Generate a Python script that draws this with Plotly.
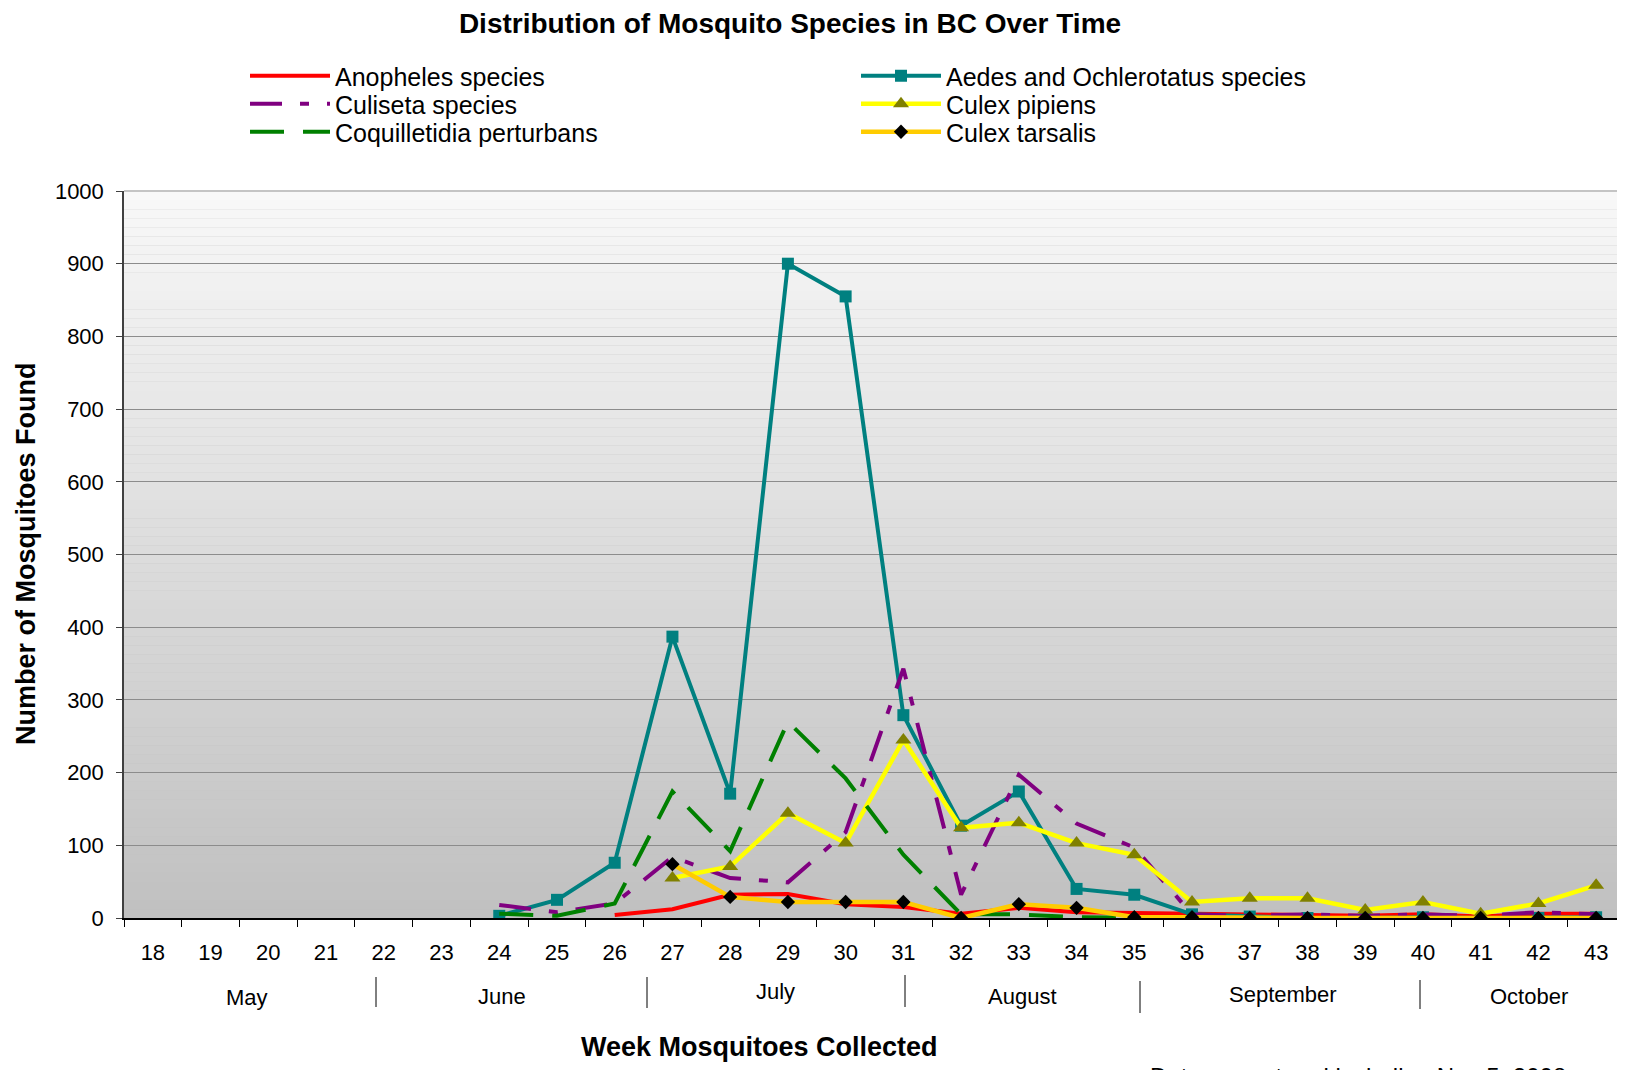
import plotly.graph_objects as go

weeks = [str(w) for w in range(18, 44)]

anopheles = [None]*8 + [4, 12, 32, 33, 19, 15, 6, 14, 8, 7, 6, 5, 5, 3, 5, 2, 6, 6]
aedes = [None]*6 + [3, 25, 76, 387, 171, 900, 855, 279, 127, 174, 40, 32, 5, 2, 0, 0, 1, 0, 0, 1]
culiseta = [None]*6 + [18, 8, 20, 84, 55, 49, 118, 343, 32, 197, 130, 97, 5, 3, 5, 3, 5, 3, 8, 5]
culex_pipiens = [None]*9 + [55, 71, 144, 103, 245, 124, 131, 103, 87, 22, 27, 27, 11, 22, 6, 20, 45]
coquilletidia = [None]*6 + [6, 3, 20, 174, 92, 270, 192, 87, 5, 5, 1, 0, 0, 0, 0, 0, 0, 0, 0, 0]
culex_tarsalis = [None]*9 + [74, 29, 22, 22, 22, 0, 19, 14, 1, 1, 0, 0, 0, 0, 0, 0, 0]

months = ["May", "June", "July", "August", "September", "October"]
month_px = [(247, 997), (502, 996), (775, 992), (1023, 996), (1283, 994), (1529, 996)]
sep_px = [(376, 977, 1007), (647, 977, 1008), (905, 975, 1007), (1140, 981, 1013), (1420, 980, 1009)]

# page body has an 8px default margin; work in page pixels and shift
OFF = 8
W, H = 1625 - OFF, 1070 - OFF
L, T = 124 - OFF, 191 - OFF
R = 0
PLOT_BOTTOM = 918 - OFF
B = H - PLOT_BOTTOM
PW = W - L - R
PH = H - T - B
FONT = "Arial, Liberation Sans, sans-serif"


def px_x(x):
    return (x - OFF - L) / PW


def px_y(y):
    return (PLOT_BOTTOM - (y - OFF)) / PH


# legend slots: (legend id, text-left x, row-centre y) in page pixels
ITEMW = 80
TEXTGAP = ITEMW + 10
legend_slots = {
    "legend": (335, 76),
    "legend2": (946, 76),
    "legend3": (335, 104),
    "legend4": (946, 104),
    "legend5": (335, 132),
    "legend6": (946, 132),
}

fig = go.Figure()

fig.add_trace(go.Scatter(x=weeks, y=anopheles, name="Anopheles species", mode="lines",
                         line=dict(color="#ff0000", width=4), legend="legend"))
fig.add_trace(go.Scatter(x=weeks, y=aedes, name="Aedes and Ochlerotatus species", mode="lines+markers",
                         line=dict(color="#008080", width=4),
                         marker=dict(symbol="square", size=12, color="#008080"), legend="legend2"))
fig.add_trace(go.Scatter(x=weeks, y=culiseta, name="Culiseta species", mode="lines",
                         line=dict(color="#800080", width=4, dash="32px,18px,9px,18px"),
                         legend="legend3"))
fig.add_trace(go.Scatter(x=weeks, y=culex_pipiens, name="Culex pipiens", mode="lines+markers",
                         line=dict(color="#ffff00", width=4.5),
                         marker=dict(symbol="triangle-up", size=14, color="#808000"), legend="legend4"))
fig.add_trace(go.Scatter(x=weeks, y=coquilletidia, name="Coquilletidia perturbans", mode="lines",
                         line=dict(color="#008000", width=4, dash="34px,19px"), legend="legend5"))
fig.add_trace(go.Scatter(x=weeks, y=culex_tarsalis, name="Culex tarsalis", mode="lines+markers",
                         line=dict(color="#ffcc00", width=4.5),
                         marker=dict(symbol="diamond", size=11, color="#000000"), legend="legend6"))

shapes = []
n = 80
for k in range(n):
    f = (k + 0.5) / n
    c = int(round(192 + (248 - 192) * f))
    shapes.append(dict(type="rect", xref="x domain", yref="y domain", x0=0, x1=1,
                       y0=k / n, y1=(k + 1) / n, fillcolor=f"rgb({c},{c},{c})",
                       line=dict(width=0), layer="below"))
shapes.append(dict(type="line", xref="paper", yref="paper", x0=0, x1=1, y0=1, y1=1,
                   line=dict(color="#c4c4c4", width=2), layer="above"))
shapes.append(dict(type="line", xref="paper", yref="paper", x0=0.9985, x1=0.9985, y0=0, y1=1,
                   line=dict(color="#c4c4c4", width=2), layer="above"))
for sx, sy0, sy1 in sep_px:
    shapes.append(dict(type="line", xref="paper", yref="paper", x0=px_x(sx), x1=px_x(sx),
                       y0=px_y(sy0), y1=px_y(sy1), line=dict(color="#000000", width=1)))

annotations = []
for m, (mx, my) in zip(months, month_px):
    annotations.append(dict(text=m, xref="paper", yref="paper", x=px_x(mx), y=px_y(my),
                            xanchor="center", yanchor="middle", showarrow=False,
                            font=dict(family=FONT, size=22, color="#000000")))
annotations.append(dict(text="<b>Week Mosquitoes Collected</b>", xref="paper", yref="paper",
                        x=px_x(759), y=px_y(1047), xanchor="center", yanchor="middle",
                        showarrow=False, font=dict(family=FONT, size=27, color="#000000")))
annotations.append(dict(text="<b>Number of Mosquitoes Found</b>", xref="paper", yref="paper",
                        x=px_x(26), y=px_y(554), xanchor="center", yanchor="middle",
                        textangle=-90, showarrow=False,
                        font=dict(family=FONT, size=27, color="#000000")))
annotations.append(dict(text="Data current and including Nov 5, 2008", xref="paper", yref="paper",
                        x=px_x(1148), y=px_y(1061), xanchor="left", yanchor="top",
                        showarrow=False, font=dict(family=FONT, size=24, color="#000000")))

legend_common = dict(xanchor="left", yanchor="middle", itemwidth=ITEMW,
                     font=dict(family=FONT, size=25, color="#000000"),
                     bgcolor="rgba(0,0,0,0)", borderwidth=0)
legends = {}
for lid, (tx, ty) in legend_slots.items():
    legends[lid] = dict(x=px_x(tx - TEXTGAP), y=px_y(ty), **legend_common)

fig.update_layout(
    width=W, height=H,
    margin=dict(l=L, r=R, t=T, b=B, autoexpand=False),
    paper_bgcolor="#ffffff",
    plot_bgcolor="#c0c0c0",
    font=dict(family=FONT, size=22, color="#000000"),
    title=dict(text="<b>Distribution of Mosquito Species in BC Over Time</b>",
               x=px_x(790), xref="paper", xanchor="center",
               y=1 - (23 - OFF) / H, yref="container", yanchor="middle",
               font=dict(family=FONT, size=28, color="#000000")),
    showlegend=True,
    xaxis=dict(type="category", range=[-0.5, 25.5], showgrid=False, showline=True,
               linecolor="#000000", linewidth=1.5, ticks="outside", tickson="boundaries",
               ticklen=7, tickcolor="#000000", tickwidth=1, ticklabelstandoff=14,
               tickfont=dict(family=FONT, size=22), zeroline=False, fixedrange=True),
    yaxis=dict(range=[0, 1000], dtick=100, showgrid=True, gridcolor="#8c8c8c", gridwidth=1,
               showline=True, linecolor="#404040", linewidth=1.5, ticks="outside", ticklen=6,
               tickcolor="#404040", ticklabelstandoff=8, zeroline=False,
               tickfont=dict(family=FONT, size=22), fixedrange=True),
    shapes=shapes,
    annotations=annotations,
    **legends,
)

fig.write_html("out.html")
